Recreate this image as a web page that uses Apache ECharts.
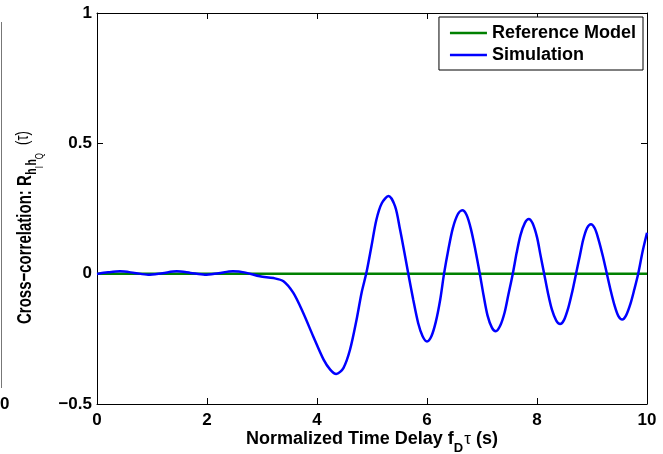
<!DOCTYPE html>
<html>
<head>
<meta charset="utf-8">
<script src="https://cdn.jsdelivr.net/npm/echarts@6/dist/echarts.min.js"></script>
<style>html,body{margin:0;padding:0;background:#fff}#c{width:663px;height:454px}</style>
</head>
<body>
<div id="c"></div>
<script>
// Normalized time delay values (x) and simulated cross-correlation (y)
const simX = [0, 0.2, 0.42, 0.68, 0.93, 1.19, 1.45, 1.7, 1.96, 2.21, 2.47, 2.7, 2.96, 3.21, 3.39, 3.57, 3.75, 3.93, 4.12, 4.24, 4.35, 4.48, 4.6, 4.72, 4.81, 4.9, 4.99, 5.08, 5.18, 5.3, 5.42, 5.51, 5.59, 5.66, 5.75, 5.84, 5.92, 6.0, 6.08, 6.16, 6.24, 6.31, 6.39, 6.47, 6.56, 6.64, 6.72, 6.8, 6.88, 6.96, 7.03, 7.1, 7.18, 7.25, 7.33, 7.41, 7.48, 7.56, 7.63, 7.7, 7.78, 7.85, 7.92, 8.0, 8.06, 8.13, 8.2, 8.27, 8.35, 8.42, 8.49, 8.57, 8.64, 8.71, 8.78, 8.84, 8.91, 8.98, 9.05, 9.12, 9.2, 9.27, 9.34, 9.41, 9.48, 9.55, 9.62, 9.7, 9.77, 9.84, 9.92, 10];
const simY = [-0.001, 0.005, 0.009, 0.003, -0.004, 0.002, 0.009, 0.003, -0.004, 0.002, 0.009, 0.004, -0.01, -0.017, -0.029, -0.074, -0.151, -0.24, -0.33, -0.368, -0.385, -0.362, -0.292, -0.176, -0.074, 0.005, 0.105, 0.207, 0.271, 0.298, 0.258, 0.169, 0.08, 0.0, -0.10, -0.19, -0.24, -0.26, -0.24, -0.185, -0.10, 0.0, 0.095, 0.175, 0.228, 0.243, 0.225, 0.17, 0.09, 0.0, -0.085, -0.16, -0.207, -0.221, -0.20, -0.15, -0.08, 0.0, 0.08, 0.148, 0.195, 0.21, 0.193, 0.14, 0.075, 0.0, -0.075, -0.137, -0.18, -0.193, -0.178, -0.13, -0.07, 0.0, 0.07, 0.13, 0.175, 0.19, 0.174, 0.13, 0.065, 0.0, -0.065, -0.122, -0.163, -0.176, -0.16, -0.115, -0.06, 0.0, 0.085, 0.157];
// Reference model (theoretical cross-correlation = 0)
const refX = [0, 10];
const refY = [0, 0];
// Axis ticks
const xTicks = [0, 2, 4, 6, 8, 10];
const yTicks = [-0.5, 0, 0.5, 1];
const seriesNames = ['Reference Model', 'Simulation'];
// Axis title pieces (text, subscript level)
const xTitleParts = [['Normalized Time Delay f', 0], ['D', 1], ['\u03c4', 'g'], [' (s)', 0]];
const yTitleParts = [['Cross\u2212correlation: R', 0], ['h', 1], ['I', 2], ['h', 1], ['Q', 2], ['(\u03c4)', 'p']];

const FAM = '"Liberation Sans", Arial, sans-serif';
const fmtY = v => (v < 0 ? '\u2212' + Math.abs(v) : String(v));

const ctx = document.createElement('canvas').getContext('2d');
function buildTitle(parts, styles) {
  let cur = 0;
  const children = [];
  parts.forEach(([txt, lvl]) => {
    const st = styles[lvl];
    const font = st.weight + ' ' + st.size + 'px ' + FAM;
    ctx.font = font;
    cur += st.gapBefore || 0;
    const w = ctx.measureText(txt).width;
    children.push({
      type: 'text', x: cur, y: st.dy - 0.32 * st.size,
      style: {text: txt, font: font, fill: '#000', align: 'left', verticalAlign: 'middle'}
    });
    cur += w + (st.gapAfter || 0);
  });
  return {children, width: cur};
}

const xTitle = buildTitle(xTitleParts, {
  0: {weight: 'bold', size: 18, dy: 0},
  1: {weight: 'bold', size: 13, dy: 8},
  g: {weight: 'normal', size: 17, dy: 0, gapBefore: 1}
});
const yTitle = buildTitle(yTitleParts, {
  0: {weight: 'bold', size: 15, dy: 0},
  1: {weight: 'bold', size: 10.5, dy: 3.6, gapBefore: 0.5},
  2: {weight: 'normal', size: 8, dy: 8},
  p: {weight: 'normal', size: 13, dy: -2, gapBefore: 8}
});

const chart = echarts.init(document.getElementById('c'), null, {renderer: 'canvas'});
const tickStyle = {show: true, inside: true, length: 6, lineStyle: {color: '#000', width: 1}};
const lineStyle = {show: true, onZero: false, lineStyle: {color: '#000', width: 1}};
const xBase = {type: 'value', min: xTicks[0], max: xTicks[xTicks.length - 1], interval: 2, splitLine: {show: false}, axisLine: lineStyle, axisTick: tickStyle};
const yBase = {type: 'value', min: yTicks[0], max: yTicks[yTicks.length - 1], interval: 0.5, splitLine: {show: false}, axisLine: lineStyle, axisTick: tickStyle};

chart.setOption({
  animation: false,
  backgroundColor: '#fff',
  grid: {left: 97, right: 16, top: 13, bottom: 50, containLabel: false},
  xAxis: [
    Object.assign({}, xBase, {
      position: 'bottom',
      axisLabel: {color: '#000', fontFamily: FAM, fontWeight: 'bold', fontSize: 17, margin: 8}
    }),
    Object.assign({}, xBase, {position: 'top', axisLabel: {show: false}})
  ],
  yAxis: [
    Object.assign({}, yBase, {
      position: 'left',
      axisLabel: {color: '#000', fontFamily: FAM, fontWeight: 'bold', fontSize: 17, margin: 5, formatter: fmtY}
    }),
    Object.assign({}, yBase, {position: 'right', axisLabel: {show: false}})
  ],
  legend: {
    data: seriesNames,
    orient: 'vertical',
    right: 20,
    top: 17,
    padding: [5, 7, 4, 11],
    icon: 'rect',
    itemWidth: 37,
    itemHeight: 2.5,
    itemGap: 0,
    borderColor: '#000',
    borderWidth: 1,
    borderRadius: 0,
    backgroundColor: '#fff',
    textStyle: {color: '#000', fontFamily: FAM, fontWeight: 'bold', fontSize: 18, lineHeight: 22}
  },
  graphic: [
    {type: 'group', x: 372 - xTitle.width / 2, y: 445, children: xTitle.children},
    {type: 'group', x: 32, y: 324, rotation: Math.PI / 2, scaleY: 1.4, children: yTitle.children},
    {type: 'line', shape: {x1: 1.5, y1: 22, x2: 1.5, y2: 388}, style: {stroke: '#777', lineWidth: 1}},
    {type: 'text', x: 0, y: 404, style: {text: '0', font: 'bold 17px ' + FAM, fill: '#000', align: 'left', verticalAlign: 'middle'}}
  ],
  series: [
    {
      name: seriesNames[0], type: 'line', symbol: 'none', z: 2,
      data: refX.map((x, i) => [x, refY[i]]),
      lineStyle: {color: '#008000', width: 2.5}, itemStyle: {color: '#008000'}
    },
    {
      name: seriesNames[1], type: 'line', symbol: 'none', smooth: 0.3, z: 3,
      data: simX.map((x, i) => [x, simY[i]]),
      lineStyle: {color: '#0000ff', width: 2.5}, itemStyle: {color: '#0000ff'}
    }
  ]
});
</script>
</body>
</html>
